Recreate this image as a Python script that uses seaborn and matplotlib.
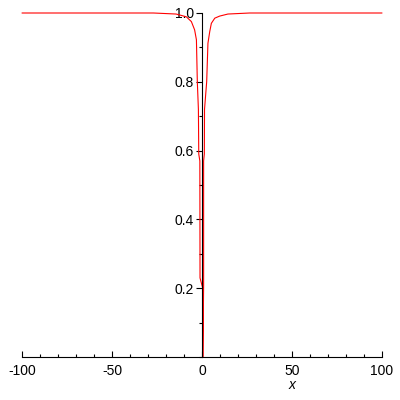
import numpy as np
import pandas as pd
import seaborn as sns
import matplotlib.pyplot as plt
from matplotlib.ticker import MultipleLocator

# curve, in drawing order (left branch down, right branch up)
curve_x = [-100, -27, -14.4, -8.7, -5.9, -4.1, -3.1, -2.6, -2.0, -1.8, -1.2, -1.1, 0.4,
           0.4, 0.5, 0.9, 0.9, 1.3, 1.4, 2.6, 3.3, 4.3, 5.2, 7.1, 9.8, 14.4, 26.5, 100]
curve_y = [1.0, 1.0, 0.997, 0.989, 0.975, 0.951, 0.922, 0.80, 0.72, 0.59, 0.57, 0.23, 0.20,
           0.0, 0.0, 0.21, 0.57, 0.59, 0.72, 0.80, 0.912, 0.946, 0.970, 0.985, 0.991, 0.997, 1.0, 1.0]

x_ticks = [-100, -50, 0, 50, 100]
y_ticks = [0.2, 0.4, 0.6, 0.8, 1.0]

sns.set_style("ticks")
plt.rcParams['font.family'] = ['Liberation Sans', 'DejaVu Sans']

df = pd.DataFrame({"x": curve_x, "y": curve_y})

fig = plt.figure(figsize=(4, 4), dpi=100)
ax = fig.add_axes([0.055, 0.1075, 0.9, 0.86])

sns.lineplot(data=df, x="x", y="y", sort=False, estimator=None,
             color="red", linewidth=0.8, ax=ax, clip_on=False)

ax.set_xlim(-100, 100)
ax.set_ylim(0, 1.0)

ax.spines['top'].set_visible(False)
ax.spines['right'].set_visible(False)
ax.spines['left'].set_position(('data', 0))
for s in ['left', 'bottom']:
    ax.spines[s].set_linewidth(0.8)
    ax.spines[s].set_color("black")

ax.set_xticks(x_ticks)
ax.set_xticklabels([str(v) for v in x_ticks])
ax.set_yticks(y_ticks)
ax.set_yticklabels([f"{v:.1f}" for v in y_ticks])
ax.xaxis.set_minor_locator(MultipleLocator(10))
ax.yaxis.set_minor_locator(MultipleLocator(0.1))

ax.tick_params(axis='x', which='both', direction='in', labelsize=10, pad=5)
ax.tick_params(axis='y', which='both', direction='out', labelsize=10, pad=2)
ax.tick_params(which='both', color='black', labelcolor='black', width=0.8)
ax.tick_params(which='major', length=4)
ax.tick_params(which='minor', length=2.3)

ax.set_ylabel("")
ax.set_xlabel("x", style='italic', fontsize=10, color='black')
ax.xaxis.set_label_coords(0.75, -0.062)

fig.savefig("out.png", dpi=100)
